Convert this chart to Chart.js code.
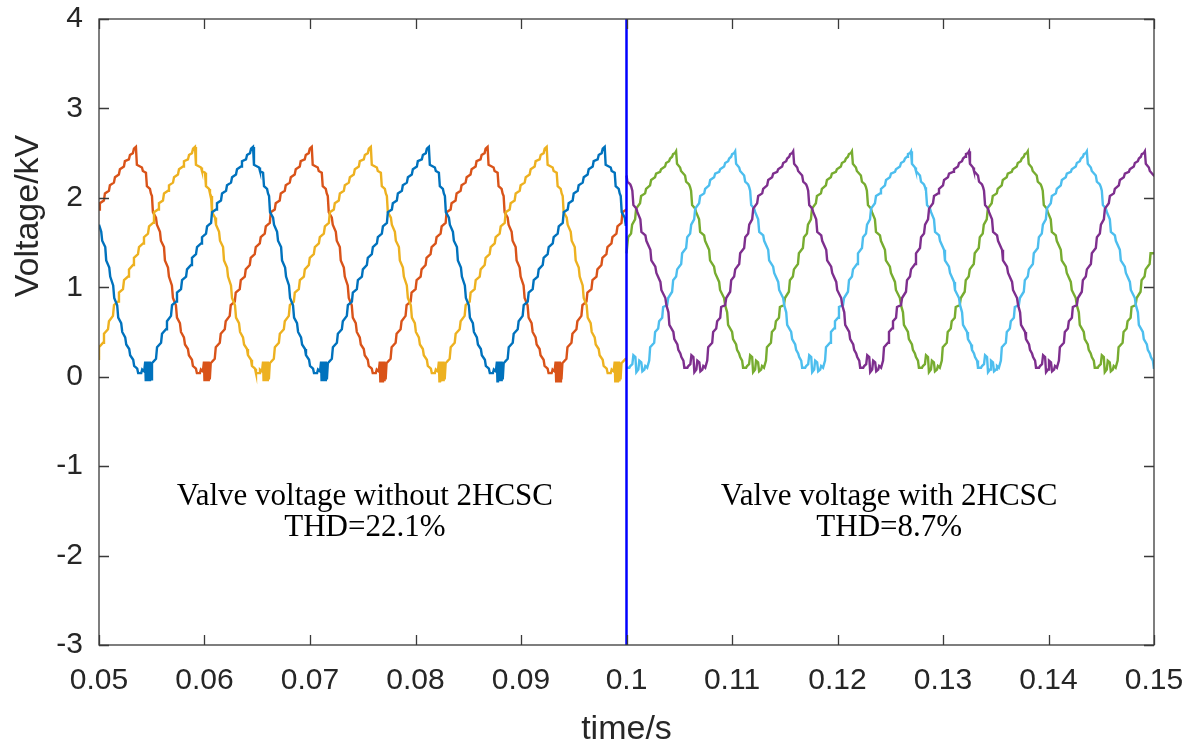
<!DOCTYPE html>
<html>
<head>
<meta charset="utf-8">
<script src="https://cdn.jsdelivr.net/npm/chart.js@4.4.1/dist/chart.umd.min.js"></script>
<style>
  html, body { margin: 0; padding: 0; background: #ffffff; }
  #wrap { width: 1197px; height: 747px; position: relative; }
</style>
</head>
<body>
<div id="wrap"><canvas id="chart"></canvas></div>
<script>
// one period of the valve voltage
// time measured from the peak (ms) and voltage (kV), corners of the staircase
const cycleBeforeMs = [0, 0.09, 0.57, 0.66, 0.95, 1.04, 1.33, 1.42, 1.52, 1.61, 1.90, 1.99, 2.28, 2.37, 2.66, 2.75,
  3.04, 3.13, 3.41, 3.51, 3.79, 3.89, 4.17, 4.27, 4.55, 4.65, 4.93, 5.02, 5.31, 5.40, 5.69, 5.78, 6.07, 6.16, 6.35,
  6.45, 6.50, 6.55, 6.60, 6.65, 6.70, 6.75, 6.80, 6.85, 6.90, 6.95, 7.00,
  7.09, 7.47, 7.57, 7.95, 8.04, 8.42, 8.51, 8.89, 8.99, 9.37, 9.46, 9.84, 9.94, 10.32, 10.41, 10.79, 10.88,
  11.26, 11.36, 11.74, 11.83, 12.21, 12.31, 12.69, 12.78, 13.16, 13.25, 13.63, 13.73, 14.11, 14.20, 14.58, 14.68,
  15.05, 15.15, 15.53, 15.62, 16.00, 16.10, 16.38, 16.48];
const cycleBeforeKv = [2.57, 2.37, 2.34, 2.30, 2.28, 2.13, 2.10, 2.05, 2.02, 1.84, 1.78, 1.70, 1.62, 1.52, 1.45, 1.30,
  1.22, 1.12, 1.02, 0.88, 0.80, 0.66, 0.60, 0.50, 0.44, 0.36, 0.31, 0.24, 0.19, 0.12, 0.09, 0.04, 0.04, 0.08, 0.06,
  0.17, -0.05, 0.17, -0.04, 0.17, -0.05, 0.16, -0.04, 0.17, -0.05, 0.16, -0.03,
  0.15, 0.20, 0.33, 0.38, 0.48, 0.53, 0.62, 0.68, 0.80, 0.84, 0.94, 0.98, 1.08, 1.12, 1.20, 1.25, 1.33,
  1.37, 1.45, 1.49, 1.56, 1.60, 1.68, 1.72, 1.84, 1.87, 1.94, 1.97, 2.05, 2.08, 2.14, 2.17, 2.23,
  2.26, 2.32, 2.35, 2.41, 2.43, 2.48, 2.50, 2.55];

const cycleAfterMs = [0, 0.09, 0.38, 0.47, 0.85, 0.95, 1.23, 1.33, 1.42, 1.52, 1.80, 1.90, 2.18, 2.28, 2.66, 2.75,
  3.13, 3.22, 3.60, 3.70, 4.08, 4.17, 4.55, 4.65, 4.84, 4.93, 5.31, 5.40, 5.69, 5.78, 5.97, 6.07, 6.26, 6.35,
  6.64, 6.73, 6.92, 7.02, 7.21, 7.30, 7.49, 7.58, 7.77, 7.87, 8.06, 8.15,
  8.33, 8.52, 8.61, 8.99, 9.08, 9.37, 9.46, 9.75, 9.84, 10.22, 10.32, 10.69, 10.79, 11.07, 11.17, 11.55, 11.64,
  12.02, 12.12, 12.40, 12.50, 12.78, 12.88, 13.25, 13.35, 13.73, 13.82, 14.20, 14.30, 14.67, 14.77,
  15.15, 15.24, 15.62, 15.72, 16.00, 16.10, 16.29, 16.38, 16.57];
const cycleAfterKv = [2.52, 2.38, 2.34, 2.30, 2.25, 2.18, 2.15, 2.12, 2.08, 1.92, 1.88, 1.84, 1.76, 1.62, 1.58, 1.52,
  1.42, 1.30, 1.23, 1.16, 1.06, 0.97, 0.88, 0.80, 0.72, 0.58, 0.50, 0.42, 0.36, 0.30, 0.26, 0.22, 0.18, 0.10,
  0.10, 0.12, 0.14, 0.24, 0.22, 0.05, 0.08, 0.18, 0.16, 0.06, 0.08, 0.12,
  0.10, 0.18, 0.33, 0.38, 0.50, 0.54, 0.62, 0.66, 0.78, 0.80, 0.88, 0.95, 1.08, 1.12, 1.20, 1.26, 1.38,
  1.44, 1.56, 1.60, 1.70, 1.76, 1.88, 1.94, 2.02, 2.05, 2.10, 2.14, 2.20, 2.23, 2.27,
  2.29, 2.32, 2.35, 2.39, 2.41, 2.44, 2.46, 2.49, 2.50];

const periodMs = 16.667;

// peak instants of each phase (s)
const peaksBefore = [0.0535, 0.0591, 0.0646];   // orange, yellow, blue
const peaksAfter = [0.1047, 0.1103, 0.1158];    // green, cyan, purple
const coloursBefore = ['#D95319', '#EDB120', '#0072BD'];
const coloursAfter = ['#77AC30', '#4DBEEE', '#7E2F8E'];

const switchTime = 0.1;
const xTicks = [0.05, 0.06, 0.07, 0.08, 0.09, 0.1, 0.11, 0.12, 0.13, 0.14, 0.15];
const xTickLabels = ['0.05', '0.06', '0.07', '0.08', '0.09', '0.1', '0.11', '0.12', '0.13', '0.14', '0.15'];
const yTicks = [-3, -2, -1, 0, 1, 2, 3, 4];

const noteLeft = ['Valve voltage without 2HCSC', 'THD=22.1%'];
const noteRight = ['Valve voltage with 2HCSC', 'THD=8.7%'];

// repeat the read period around a phase peak and keep the part inside [t0, t1]
function buildPhase(peak, ms, kv, t0, t1) {
    const T = periodMs / 1000;
    const pts = [];
    const kStart = Math.floor((t0 - peak) / T) - 1;
    const kEnd = Math.ceil((t1 - peak) / T) + 1;
    for (let k = kStart; k <= kEnd; k++) {
        for (let i = 0; i < ms.length; i++) {
            pts.push({ x: peak + k * T + ms[i] / 1000, y: kv[i] });
        }
    }
    const out = [];
    let last = null;
    for (const p of pts) {
        if (p.x < t0) { last = p; continue; }
        if (p.x > t1) break;
        if (!out.length && last) out.push({ x: t0, y: last.y });
        out.push(p);
    }
    out.push({ x: t1, y: out[out.length - 1].y });
    return out;
}

const datasets = [];
datasets.push({
    data: [{ x: switchTime, y: -3 }, { x: switchTime, y: 4 }],
    borderColor: '#0000FF', borderWidth: 2.5, pointRadius: 0, order: 0
});
// later phases drawn on top, as in the figure
peaksAfter.forEach((p, i) => {
    datasets.push({
        data: buildPhase(p, cycleAfterMs, cycleAfterKv, switchTime, 0.15),
        borderColor: coloursAfter[i], borderWidth: 2.4, pointRadius: 0,
        tension: 0, order: 3 - i
    });
});
peaksBefore.forEach((p, i) => {
    datasets.push({
        data: buildPhase(p, cycleBeforeMs, cycleBeforeKv, 0.05, switchTime),
        borderColor: coloursBefore[i], borderWidth: 2.4, pointRadius: 0,
        tension: 0, order: 6 - i
    });
});

const framePlugin = {
    id: 'frame',
    afterDraw(chart) {
        const { ctx, chartArea: a, scales: { x, y } } = chart;
        ctx.save();
        ctx.strokeStyle = '#3a3a3a';
        ctx.lineWidth = 1.3;
        ctx.strokeRect(a.left, a.top, a.right - a.left, a.bottom - a.top);
        ctx.beginPath();
        xTicks.forEach(v => {
            const px = Math.round(x.getPixelForValue(v)) + 0.5;
            ctx.moveTo(px, a.bottom); ctx.lineTo(px, a.bottom - 10);
            ctx.moveTo(px, a.top); ctx.lineTo(px, a.top + 10);
        });
        yTicks.forEach(v => {
            const py = Math.round(y.getPixelForValue(v)) + 0.5;
            ctx.moveTo(a.left, py); ctx.lineTo(a.left + 10, py);
            ctx.moveTo(a.right, py); ctx.lineTo(a.right - 10, py);
        });
        ctx.stroke();

        // axis titles
        ctx.fillStyle = '#262626';
        ctx.font = '34px "Liberation Sans", Arial, sans-serif';
        ctx.textAlign = 'center';
        ctx.textBaseline = 'alphabetic';
        ctx.fillText('time/s', x.getPixelForValue(0.1), 739);
        ctx.translate(38, 216);
        ctx.rotate(-Math.PI / 2);
        ctx.fillText('Voltage/kV', 0, 0);
        ctx.restore();

        // notes
        ctx.save();
        ctx.fillStyle = '#000000';
        ctx.font = '31px "Liberation Serif", "Times New Roman", serif';
        ctx.textAlign = 'center';
        ctx.textBaseline = 'alphabetic';
        const lx = x.getPixelForValue(0.0752), rx = x.getPixelForValue(0.1249);
        const b1 = y.getPixelForValue(-1.43), b2 = y.getPixelForValue(-1.78);
        ctx.fillText(noteLeft[0], lx, b1);
        ctx.fillText(noteLeft[1], lx, b2);
        ctx.fillText(noteRight[0], rx, b1);
        ctx.fillText(noteRight[1], rx, b2);
        ctx.restore();
    }
};

const tickFont = { family: '"Liberation Sans", Arial, sans-serif', size: 30 };

new Chart(document.getElementById('chart'), {
    type: 'line',
    data: { datasets: datasets },
    options: {
        responsive: true,
        maintainAspectRatio: false,
        animation: false,
        events: [],
        layout: { padding: { top: 19, right: 43, left: 0, bottom: 0 } },
        plugins: { legend: { display: false }, tooltip: { enabled: false } },
        scales: {
            x: {
                type: 'linear', min: 0.05, max: 0.15,
                grid: { display: false }, border: { display: false },
                afterBuildTicks: s => { s.ticks = xTicks.map(v => ({ value: v })); },
                afterFit: s => { s.height = 102; s.paddingLeft = 0; s.paddingRight = 0; },
                ticks: {
                    font: tickFont, color: '#262626', padding: 10, maxRotation: 0,
                    callback: (v, i) => xTickLabels[i]
                }
            },
            y: {
                type: 'linear', min: -3, max: 4,
                grid: { display: false }, border: { display: false },
                afterBuildTicks: s => { s.ticks = yTicks.map(v => ({ value: v })); },
                afterFit: s => { s.width = 99; s.paddingTop = 0; s.paddingBottom = 0; },
                ticks: { font: tickFont, color: '#262626', padding: 8 }
            }
        }
    },
    plugins: [framePlugin]
});
</script>
</body>
</html>
